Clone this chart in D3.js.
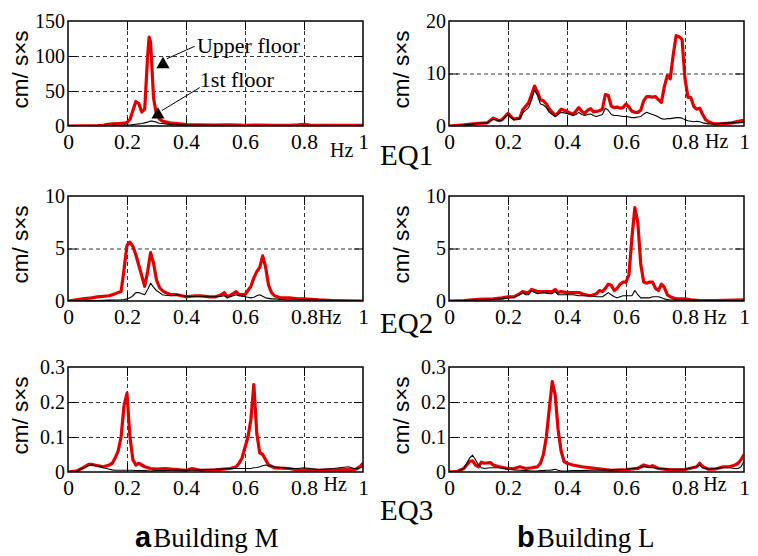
<!DOCTYPE html>
<html>
<head>
<meta charset="utf-8">
<script src="https://cdn.jsdelivr.net/npm/d3@7"></script>
<style>
  body { margin: 0; background: #fff; }
  svg text { font-family: "Liberation Serif", "Times New Roman", serif; fill: #000; }
  .grid line { stroke: #000; stroke-width: 0.8; stroke-dasharray: 4,3; }
  .grid .domain, .ticks .domain, .labels .domain { display: none; }
  .ticks line { stroke: #000; stroke-width: 1; }
</style>
</head>
<body>
<svg id="chart" width="758" height="556"></svg>
<script>
// Building M, EQ1
var mEq1Freq  = [0, 0.05, 0.1, 0.12, 0.13, 0.15, 0.17, 0.19, 0.2, 0.21, 0.22, 0.23, 0.24, 0.25, 0.26, 0.27, 0.275, 0.28, 0.285, 0.29, 0.3, 0.31, 0.32, 0.33, 0.35, 0.38, 0.4, 0.45, 0.5, 0.55, 0.6, 0.65, 0.7, 0.75, 0.78, 0.8, 0.82, 0.85, 0.9, 0.95, 1];
var mEq1Upper = [0, 0.3, 0.5, 1, 2, 3, 3.5, 4, 5, 9, 22, 35, 32, 20, 24, 100, 127, 120, 80, 40, 16, 10, 7, 6, 4, 3, 2, 1.5, 1.2, 1.5, 1, 1.2, 1, 1, 1.5, 2.5, 1.2, 1, 1, 0.8, 0.8];
var mEq1First = [0, 0, 0.3, 0.5, 0.6, 1, 0.8, 1.2, 1.5, 1.5, 2, 2.5, 3, 3.5, 4.5, 5.5, 6.5, 7, 7, 6.5, 5.5, 4, 3.5, 3, 2, 1.5, 1.5, 1, 1, 0.8, 0.8, 0.8, 0.6, 0.5, 0.5, 0.8, 0.5, 0.5, 0.4, 0.4, 0.3];

// Building L, EQ1
var lEq1Freq  = [0, 0.05, 0.1, 0.13, 0.15, 0.17, 0.18, 0.2, 0.21, 0.22, 0.24, 0.25, 0.27, 0.28,
  0.29, 0.3, 0.31, 0.32, 0.33, 0.34, 0.35, 0.36, 0.37, 0.38,
  0.39, 0.4, 0.41, 0.42, 0.43, 0.44, 0.45, 0.46, 0.47, 0.48,
  0.49, 0.5, 0.51, 0.52, 0.53, 0.54, 0.55, 0.56, 0.57, 0.58,
  0.59, 0.6, 0.61, 0.62, 0.63, 0.64, 0.65, 0.66, 0.67, 0.68,
  0.69, 0.7, 0.71, 0.72, 0.73, 0.74, 0.75, 0.76, 0.77, 0.78,
  0.79, 0.8, 0.81, 0.82, 0.83, 0.84, 0.85, 0.86, 0.87, 0.88,
  0.9, 0.92, 0.94, 0.96, 0.98, 1];
var lEq1Upper = [0, 0.2, 0.5, 0.6, 1.5, 1.0, 1.2, 2.4, 1.8, 1.3, 1.5, 3.1, 4.4, 6.0,
  7.6, 6.5, 5.0, 4.8, 4.2, 3.2, 2.6, 2.0, 2.5, 3.2,
  3.0, 2.8, 2.5, 2.2, 2.8, 3.5, 2.8, 2.4, 3.0, 3.3,
  2.7, 2.8, 2.9, 3.2, 6.0, 5.8, 3.8, 3.5, 3.6, 3.4,
  3.5, 4.2, 3.6, 2.8, 2.6, 2.6, 3.0, 4.8, 5.6, 5.6,
  5.5, 5.6, 5.0, 4.5, 7.5, 9.6, 9.0, 13.5, 17.2, 17.0,
  16.5, 9.0, 5.5, 5.4, 3.7, 3.2, 3.4, 2.2, 1.2, 0.8,
  0.4, 0.4, 0.5, 0.6, 0.9, 1.1];
var lEq1First = [0, 0.2, 0.5, 0.6, 1.3, 1.0, 1.1, 2.2, 1.6, 1.2, 1.4, 2.5, 3.5, 5.0,
  6.8, 5.8, 4.2, 4.0, 3.5, 2.6, 2.2, 1.8, 2.2, 2.6,
  2.5, 2.4, 2.2, 2.0, 2.2, 2.6, 2.2, 2.0, 2.2, 2.3,
  2.0, 1.8, 2.0, 2.2, 3.4, 3.0, 2.2, 2.0, 2.0, 1.9,
  1.8, 1.8, 1.7, 1.6, 1.6, 1.7, 1.8, 2.3, 2.6, 2.4,
  2.2, 2.0, 1.7, 1.4, 1.3, 1.4, 1.4, 1.5, 1.6, 1.6,
  1.5, 1.2, 1.0, 0.9, 0.8, 0.9, 0.8, 0.6, 0.5, 0.4,
  0.4, 0.5, 0.6, 0.6, 0.6, 0.7];

// Building M, EQ2
var mEq2Freq  = [0, 0.05, 0.08, 0.1, 0.14, 0.16, 0.17, 0.18, 0.19, 0.2,
  0.21, 0.22, 0.23, 0.24, 0.25, 0.26, 0.27, 0.28, 0.29, 0.3,
  0.31, 0.32, 0.33, 0.35, 0.37, 0.4, 0.43, 0.45, 0.48, 0.5,
  0.52, 0.53, 0.54, 0.56, 0.57, 0.58, 0.6, 0.61, 0.62, 0.63,
  0.64, 0.65, 0.66, 0.67, 0.68, 0.69, 0.7, 0.72, 0.75, 0.78,
  0.8, 0.85, 0.9, 1];
var mEq2Upper = [0, 0.2, 0.3, 0.4, 0.5, 0.7, 0.8, 0.9, 3.0, 5.3,
  5.6, 5.2, 4.4, 3.4, 2.4, 1.4, 2.8, 4.6, 3.6, 2.0,
  1.3, 1.0, 0.8, 0.6, 0.6, 0.4, 0.5, 0.5, 0.4, 0.4,
  0.6, 0.8, 0.4, 0.7, 0.9, 0.6, 0.6, 1.0, 1.4, 2.2,
  2.8, 3.2, 4.3, 3.2, 1.5, 0.8, 0.5, 0.3, 0.3, 0.2,
  0.2, 0.1, 0.05, 0];
var mEq2First = [0, 0.02, 0.05, 0.05, 0.08, 0.1, 0.1, 0.12, 0.15, 0.2,
  0.3, 0.5, 0.8, 0.8, 0.7, 0.6, 1.1, 1.7, 1.3, 1.0,
  0.8, 0.6, 0.55, 0.5, 0.6, 0.45, 0.4, 0.4, 0.4, 0.4,
  0.45, 0.5, 0.3, 0.5, 0.6, 0.5, 0.4, 0.35, 0.3, 0.35,
  0.5, 0.6, 0.45, 0.3, 0.25, 0.2, 0.2, 0.15, 0.1, 0.12,
  0.15, 0.1, 0.05, 0];

// Building L, EQ2
var lEq2Freq  = [0, 0.05, 0.1, 0.15, 0.18, 0.2, 0.22, 0.24, 0.25, 0.26,
  0.27, 0.28, 0.29, 0.3, 0.32, 0.34, 0.35, 0.36, 0.37, 0.38,
  0.4, 0.42, 0.44, 0.46, 0.48, 0.5, 0.51, 0.52, 0.53, 0.54,
  0.55, 0.56, 0.57, 0.58, 0.59, 0.6, 0.61, 0.62, 0.63, 0.64,
  0.65, 0.66, 0.67, 0.68, 0.69, 0.7, 0.71, 0.72, 0.73, 0.74,
  0.75, 0.77, 0.8, 0.82, 0.85, 0.9, 1];
var lEq2Upper = [0, 0.05, 0.15, 0.2, 0.3, 0.4, 0.4, 0.7, 0.9, 0.8,
  0.8, 1.1, 1.0, 0.9, 0.9, 0.9, 0.9, 1.1, 0.8, 0.9,
  0.8, 0.8, 0.8, 0.6, 0.5, 0.7, 1.0, 0.9, 1.2, 1.6,
  1.5, 1.0, 1.2, 1.6, 1.8, 1.8, 2.5, 6.0, 8.9, 7.5,
  3.5, 1.8, 1.7, 1.8, 1.8, 1.2, 1.0, 1.6, 1.3, 0.6,
  0.4, 0.2, 0.2, 0.1, 0.05, 0.05, 0.1];
var lEq2First = [0, 0.05, 0.1, 0.15, 0.2, 0.3, 0.35, 0.6, 0.8, 0.6,
  0.6, 1.0, 0.8, 0.7, 0.8, 0.7, 0.7, 0.9, 0.6, 0.6,
  0.6, 0.6, 0.5, 0.5, 0.5, 0.4, 0.4, 0.4, 0.6, 0.8,
  0.6, 0.4, 0.3, 0.4, 0.5, 0.5, 0.5, 0.5, 1.0, 0.6,
  0.3, 0.3, 0.3, 0.3, 0.4, 0.4, 0.4, 0.3, 0.2, 0.15,
  0.1, 0.1, 0.1, 0.08, 0.05, 0.05, 0.05];

// Building M, EQ3
var mEq3Freq  = [0, 0.03, 0.05, 0.07, 0.08, 0.1, 0.12, 0.14, 0.15, 0.16,
  0.17, 0.18, 0.19, 0.2, 0.21, 0.22, 0.23, 0.24, 0.25, 0.26,
  0.28, 0.3, 0.33, 0.35, 0.4, 0.42, 0.45, 0.5, 0.55, 0.57,
  0.58, 0.59, 0.6, 0.61, 0.62, 0.63, 0.64, 0.65, 0.66, 0.67,
  0.68, 0.7, 0.75, 0.78, 0.8, 0.85, 0.9, 0.95, 0.97, 0.98,
  0.99, 1];
var mEq3Upper = [0, 0.003, 0.012, 0.022, 0.022, 0.018, 0.015, 0.02, 0.025, 0.04,
  0.06, 0.1, 0.19, 0.225, 0.1, 0.035, 0.02, 0.025, 0.02, 0.015,
  0.01, 0.008, 0.01, 0.008, 0.005, 0.01, 0.005, 0.006, 0.01, 0.015,
  0.025, 0.04, 0.07, 0.1, 0.15, 0.25, 0.11, 0.055, 0.05, 0.035,
  0.02, 0.012, 0.01, 0.005, 0.006, 0.005, 0.006, 0.007, 0.006, 0.01,
  0.015, 0.025];
var mEq3First = [0, 0.002, 0.01, 0.018, 0.02, 0.017, 0.012, 0.008, 0.006, 0.005,
  0.005, 0.005, 0.005, 0.005, 0.005, 0.005, 0.004, 0.004, 0.004, 0.004,
  0.003, 0.004, 0.004, 0.005, 0.005, 0.005, 0.006, 0.008, 0.01, 0.01,
  0.01, 0.01, 0.01, 0.01, 0.01, 0.012, 0.013, 0.015, 0.018, 0.02,
  0.018, 0.015, 0.01, 0.01, 0.012, 0.007, 0.01, 0.015, 0.01, 0.01,
  0.012, 0.015];

// Building L, EQ3
var lEq3Freq  = [0, 0.03, 0.05, 0.06, 0.07, 0.08, 0.09, 0.1, 0.11, 0.12,
  0.14, 0.15, 0.17, 0.2, 0.22, 0.24, 0.26, 0.28, 0.3, 0.31,
  0.32, 0.33, 0.34, 0.35, 0.36, 0.37, 0.38, 0.39, 0.4, 0.42,
  0.45, 0.48, 0.5, 0.55, 0.6, 0.64, 0.66, 0.68, 0.69, 0.71,
  0.75, 0.8, 0.84, 0.85, 0.86, 0.88, 0.9, 0.93, 0.95, 0.97,
  0.98, 0.99, 1];
var lEq3Upper = [0, 0.002, 0.01, 0.02, 0.03, 0.032, 0.02, 0.015, 0.028, 0.025,
  0.027, 0.02, 0.015, 0.01, 0.01, 0.015, 0.01, 0.012, 0.015, 0.025,
  0.05, 0.1, 0.18, 0.258, 0.22, 0.12, 0.06, 0.03, 0.025, 0.02,
  0.015, 0.012, 0.01, 0.005, 0.007, 0.01, 0.02, 0.015, 0.018, 0.01,
  0.006, 0.007, 0.015, 0.025, 0.015, 0.008, 0.008, 0.015, 0.015, 0.02,
  0.025, 0.035, 0.05];
var lEq3First = [0, 0.002, 0.01, 0.025, 0.04, 0.048, 0.035, 0.02, 0.012, 0.01,
  0.012, 0.012, 0.012, 0.008, 0.006, 0.005, 0.004, 0.003, 0.003, 0.004,
  0.004, 0.005, 0.005, 0.006, 0.008, 0.005, 0.003, 0.003, 0.003, 0.004,
  0.004, 0.005, 0.005, 0.006, 0.008, 0.012, 0.015, 0.013, 0.012, 0.01,
  0.008, 0.008, 0.015, 0.02, 0.012, 0.008, 0.01, 0.012, 0.012, 0.01,
  0.01, 0.015, 0.03];

var xTicks = [0, 0.2, 0.4, 0.6, 0.8, 1];
var eqLabels = ['EQ1', 'EQ2', 'EQ3'];
var buildingLetters = ['a', 'b'];
var buildingNames = ['Building M', 'Building L'];
var yTitle = 'cm/ s\u00d7s';

var panels = [
  { col: 0, row: 0, freq: mEq1Freq, upper: mEq1Upper, first: mEq1First, yTicks: [0, 50, 100, 150], hzX: 0.888, hzDy: 31, hz: 'Hz' },
  { col: 1, row: 0, freq: lEq1Freq, upper: lEq1Upper, first: lEq1First, yTicks: [0, 10, 20], hzX: 0.868, hzDy: 22, hz: 'Hz' },
  { col: 0, row: 1, freq: mEq2Freq, upper: mEq2Upper, first: mEq2First, yTicks: [0, 5, 10], hzX: 0.848, hzDy: 23, hz: 'Hz' },
  { col: 1, row: 1, freq: lEq2Freq, upper: lEq2Upper, first: lEq2First, yTicks: [0, 5, 10], hzX: 0.862, hzDy: 23, hz: 'Hz' },
  { col: 0, row: 2, freq: mEq3Freq, upper: mEq3Upper, first: mEq3First, yTicks: [0, 0.1, 0.2, 0.3], hzX: 0.866, hzDy: 19, hz: 'Hz' },
  { col: 1, row: 2, freq: lEq3Freq, upper: lEq3Upper, first: lEq3First, yTicks: [0, 0.1, 0.2, 0.3], hzX: 0.862, hzDy: 19, hz: 'Hz' }
];

var colX = [68, 449];
var rowY = [21, 196, 367];
var W = 295, H = 105;
var red = '#e00000';
var serif = '"Liberation Serif", "Times New Roman", serif';
var sans = '"Liberation Sans", Arial, sans-serif';

var svg = d3.select('#chart');

panels.forEach(function(p, k) {
    var g = svg.append('g')
        .attr('transform', 'translate(' + colX[p.col] + ',' + rowY[p.row] + ')');
    var x = d3.scaleLinear().domain([0, 1]).range([0, W]);
    var y = d3.scaleLinear().domain([0, p.yTicks[p.yTicks.length - 1]]).range([H, 0]);
    var inner = p.yTicks.slice(1, -1);
    var innerX = xTicks.slice(1, -1);

    // dashed grid
    g.append('g').attr('class', 'grid')
        .attr('transform', 'translate(0,' + H + ')')
        .call(d3.axisBottom(x).tickValues(innerX).tickSize(-H).tickFormat(''));
    g.append('g').attr('class', 'grid')
        .call(d3.axisLeft(y).tickValues(inner).tickSize(-W).tickFormat(''));

    // inner ticks on four sides
    g.append('g').attr('class', 'ticks').attr('transform', 'translate(0,' + H + ')')
        .call(d3.axisBottom(x).tickValues(innerX).tickSize(-9).tickFormat(''));
    g.append('g').attr('class', 'ticks')
        .call(d3.axisTop(x).tickValues(innerX).tickSize(-9).tickFormat(''));
    g.append('g').attr('class', 'ticks')
        .call(d3.axisLeft(y).tickValues(inner).tickSize(-9).tickFormat(''));
    g.append('g').attr('class', 'ticks').attr('transform', 'translate(' + W + ',0)')
        .call(d3.axisRight(y).tickValues(inner).tickSize(-9).tickFormat(''));

    // curves
    var clipId = 'clip' + k;
    g.append('clipPath').attr('id', clipId)
        .append('rect').attr('width', W).attr('height', H);
    var line = d3.line()
        .x(function(d) { return x(d[0]); })
        .y(function(d) { return y(d[1]); });
    var upperPts = p.freq.map(function(f, i) { return [f, p.upper[i]]; });
    var firstPts = p.freq.map(function(f, i) { return [f, p.first[i]]; });
    g.append('path').datum(upperPts)
        .attr('clip-path', 'url(#' + clipId + ')')
        .attr('d', line)
        .attr('fill', 'none')
        .attr('stroke', red)
        .attr('stroke-width', 3.2)
        .attr('stroke-linejoin', 'round');
    g.append('path').datum(firstPts)
        .attr('clip-path', 'url(#' + clipId + ')')
        .attr('d', line)
        .attr('fill', 'none')
        .attr('stroke', '#000')
        .attr('stroke-width', 1.1)
        .attr('stroke-linejoin', 'round');

    // frame
    g.append('rect').attr('width', W).attr('height', H)
        .attr('fill', 'none').attr('stroke', '#000').attr('stroke-width', 1.5);

    // tick labels
    var xl = g.append('g').attr('class', 'labels')
        .attr('transform', 'translate(0,' + H + ')')
        .call(d3.axisBottom(x).tickValues(xTicks).tickSize(0).tickPadding(8)
            .tickFormat(function(d) { return d === 0 ? '0' : d === 1 ? '1' : d3.format('.1f')(d); }));
    xl.attr('font-family', null).attr('font-size', null);
    xl.selectAll('text')
        .style('font-family', serif).style('font-size', '21.5px');

    var yl = g.append('g').attr('class', 'labels')
        .call(d3.axisLeft(y).tickValues(p.yTicks).tickSize(0).tickPadding(3)
            .tickFormat(function(d) { return d === 0 ? '0' : String(d); }));
    yl.attr('font-family', null).attr('font-size', null);
    yl.selectAll('text')
        .style('font-family', serif).style('font-size', '20px');

    g.append('text')
        .attr('x', x(p.hzX)).attr('y', H + p.hzDy)
        .style('font-size', '20px')
        .text(p.hz);

    // y title
    g.append('text')
        .attr('transform', 'translate(' + (-40) + ',' + (H / 2 - 4) + ') rotate(-90)')
        .attr('text-anchor', 'middle')
        .style('font-family', sans)
        .style('font-size', '22.5px')
        .text(yTitle);

    // annotations on the first panel
    if (k === 0) {
        var notes = [
            { label: 'Upper floor', tx: 0.437, ty: 104, from: [0.43, 114], to: [0.335, 96], tri: [0.322, 88] },
            { label: '1st floor', tx: 0.447, ty: 56, from: [0.447, 55], to: [0.318, 22], tri: [0.305, 16] }
        ];
        notes.forEach(function(n) {
            g.append('line')
                .attr('x1', x(n.from[0])).attr('y1', y(n.from[1]))
                .attr('x2', x(n.to[0])).attr('y2', y(n.to[1]))
                .attr('stroke', '#000').attr('stroke-width', 1);
            g.append('path')
                .attr('d', d3.symbol(d3.symbolTriangle, 75)())
                .attr('transform', 'translate(' + x(n.tri[0]) + ',' + y(n.tri[1]) + ')')
                .attr('fill', '#000');
            g.append('text')
                .attr('x', x(n.tx)).attr('y', y(n.ty))
                .style('font-size', '22px')
                .text(n.label);
        });
    }
});

// EQ labels
var eqY = [165, 333, 520];
eqLabels.forEach(function(t, i) {
    svg.append('text').attr('x', 380).attr('y', eqY[i])
        .style('font-size', '29px').text(t);
});

// building captions
var capX = [135, 517];
buildingNames.forEach(function(name, i) {
    var t = svg.append('text').attr('x', capX[i]).attr('y', 547);
    t.append('tspan')
        .style('font-family', sans)
        .style('font-weight', 'bold').style('font-size', '29px')
        .text(buildingLetters[i]);
    t.append('tspan').attr('dx', 2)
        .style('font-size', '27px')
        .text(name);
});
</script>
</body>
</html>
